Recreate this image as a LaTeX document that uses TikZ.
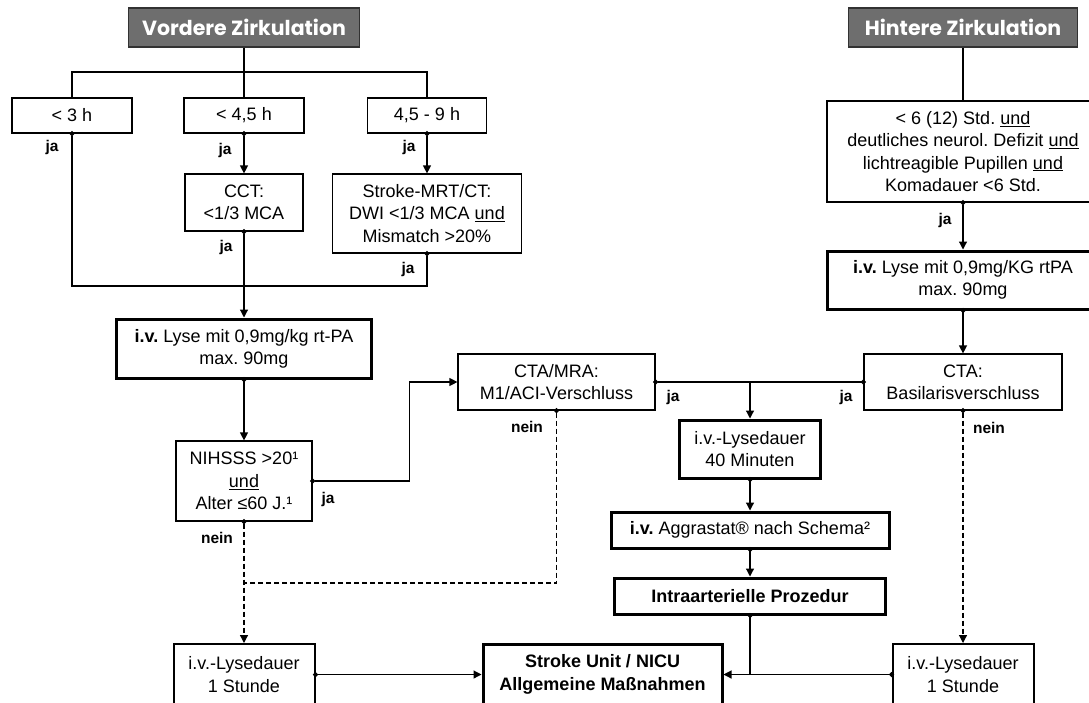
\documentclass[tikz,border=0pt]{standalone}
\usepackage{fontspec}
\setmainfont{Liberation Sans}
\newfontfamily\headfont{Poppins}
\usetikzlibrary{arrows.meta}
\definecolor{headgray}{RGB}{110,110,110}
\definecolor{headline}{RGB}{50,50,50}
\frenchspacing

\tikzset{
  box/.style={draw, line width=1.2pt, align=center, inner sep=0pt,
    font=\fontsize{18}{22.3}\selectfont},
  midbox/.style={box, line width=2pt},
  thickbox/.style={box, line width=3pt},
  headbox/.style={draw=headline, fill=headgray, line width=1.5pt, inner sep=0pt,
    text=white, font=\headfont\bfseries\fontsize{20.5}{24}\selectfont},
  lbl/.style={inner sep=0pt, font=\bfseries\fontsize{15.5}{18}\selectfont},
  conn/.style={line width=1.2pt},
  arr/.style={conn, -{Triangle[length=8pt,width=8pt]}},
  dotarr/.style={conn, {Circle[length=5pt]}-{Triangle[length=8pt,width=8pt]}, shorten <=-2.5pt},
  dotline/.style={conn, {Circle[length=5pt]}-, shorten <=-2.5pt},
  dotboth/.style={conn, {Circle[length=5pt]}-{Circle[length=5pt]}, shorten <=-2.5pt, shorten >=-2.5pt},
  nein line/.style={dash pattern=on 5pt off 3pt}
}

\begin{document}
\begin{tikzpicture}[x=1pt, y=-1pt]
  \useasboundingbox (0,0) rectangle (1089,702);
  \clip (0,0) rectangle (1089,702);
  \fill[white] (0,0) rectangle (1089,702);

  % Vordere Zirkulation
  \node[headbox, minimum width=231pt, minimum height=39pt] (vord) at (244,27.5) {Vordere Zirkulation};
  \node[box, minimum width=120pt, minimum height=35pt] (t3) at (72,115.5) {< 3 h};
  \node[box, minimum width=120pt, minimum height=35pt] (t45) at (244,115.5) {< 4,5 h};
  \node[box, minimum width=119pt, minimum height=35pt] (t9) at (427,115.5) {4,5 - 9 h};
  \node[box, minimum width=118pt, minimum height=57pt] (cct) at (244,202.5) {CCT:\\<1/3 MCA};
  \node[box, minimum width=189pt, minimum height=79pt] (mrt) at (427,213.5) {Stroke-MRT/CT:\\DWI <1/3 MCA \underline{und}\\Mismatch >20\%};
  \node[thickbox, minimum width=255pt, minimum height=59pt] (lyseL) at (244,348.5) {\textbf{i.v.} Lyse mit 0,9mg/kg rt-PA\\max. 90mg};
  \node[box, minimum width=136pt, minimum height=80pt] (nih) at (244,481) {NIHSSS >20¹\\\underline{und}\\Alter ≤60 J.¹};
  \node[box, minimum width=197pt, minimum height=56pt] (ctaM) at (556.5,382) {CTA/MRA:\\M1/ACI-Verschluss};
  \node[midbox, minimum width=141pt, minimum height=61pt] (lysL) at (244,674.5) {i.v.-Lysedauer\\1 Stunde};

  % Hintere Zirkulation
  \node[headbox, minimum width=229pt, minimum height=39pt] (hint) at (963,27.5) {Hintere Zirkulation};
  \node[box, minimum width=272pt, minimum height=101pt] (cond) at (963,151.5) {< 6 (12) Std. \underline{und}\\deutliches neurol. Defizit \underline{und}\\lichtreagible Pupillen \underline{und}\\Komadauer <6 Std.};
  \node[thickbox, minimum width=272pt, minimum height=58pt] (lyseR) at (963,280) {\textbf{i.v.} Lyse mit 0,9mg/KG rtPA\\max. 90mg};
  \node[box, minimum width=198pt, minimum height=56pt] (ctaB) at (963,382) {CTA:\\Basilarisverschluss};
  \node[midbox, minimum width=141pt, minimum height=61pt] (lysR) at (963,674.5) {i.v.-Lysedauer\\1 Stunde};

  % Mitte
  \node[thickbox, minimum width=141pt, minimum height=58pt] (ly40) at (750,449) {i.v.-Lysedauer\\40 Minuten};
  \node[thickbox, minimum width=278pt, minimum height=36pt] (aggr) at (750,530) {\textbf{i.v.} Aggrastat® nach Schema²};
  \node[thickbox, minimum width=271pt, minimum height=36pt] (intra) at (750,596) {\textbf{Intraarterielle Prozedur}};
  \node[thickbox, minimum width=239pt, minimum height=61pt] (stroke) at (602.5,674.5) {\textbf{Stroke Unit / NICU}\\\textbf{Allgemeine Maßnahmen}};

  \coordinate (bus) at (244,72);
  \coordinate (coll) at (244,286);
  \coordinate (neinjoin) at (244,583);

  % Connectors
  \draw[conn] (vord.south) -- (t45.north);
  \draw[conn] (t3.north) -- (t3.north |- bus) -- (t9.north |- bus) -- (t9.north);
  \draw[dotarr] (t45.south) -- (cct.north);
  \draw[dotarr] (t9.south) -- (mrt.north);
  \draw[dotboth] (t3.south) -- (t3.south |- coll) -- (mrt.south |- coll) -- (mrt.south);
  \draw[dotarr] (cct.south) -- (lyseL.north);
  \draw[dotarr] (lyseL.south) -- (nih.north);
  \draw[dotarr] (nih.east) -- ++(97,0) |- (ctaM.west);
  \draw[dotarr, nein line] (nih.south) -- (lysL.north);
  \draw[dotline, nein line] (ctaM.south) |- (neinjoin);
  \draw[dotarr] (lysL.east) -- (stroke.west);

  \draw[conn] (hint.south) -- (cond.north);
  \draw[dotarr] (cond.south) -- (lyseR.north);
  \draw[dotarr] (lyseR.south) -- (ctaB.north);
  \draw[dotarr, nein line] (ctaB.south) -- (lysR.north);
  \draw[dotboth] (ctaM.east) -- (ctaB.west);
  \draw[arr] (ly40.north |- ctaM.east) -- (ly40.north);
  \draw[dotarr] (ly40.south) -- (aggr.north);
  \draw[dotarr] (aggr.south) -- (intra.north);
  \draw[dotarr] (intra.south) |- (stroke.east);
  \draw[dotline] (lysR.west) -- (intra.south |- lysR.west);

  % Labels
  \node[lbl] (ja1) at (52,147) {ja};
  \node[lbl] (ja2) at (225,150) {ja};
  \node[lbl] (ja3) at (409,147) {ja};
  \node[lbl] (ja4) at (226,247) {ja};
  \node[lbl] (ja5) at (408,269) {ja};
  \node[lbl] (ja6) at (328,499) {ja};
  \node[lbl] (ja7) at (673,397) {ja};
  \node[lbl] (ja8) at (846,397) {ja};
  \node[lbl] (ja9) at (945,220) {ja};
  \node[lbl] (nein1) at (217,538) {nein};
  \node[lbl] (nein2) at (527,427) {nein};
  \node[lbl] (nein3) at (989,428) {nein};
\end{tikzpicture}
\end{document}
